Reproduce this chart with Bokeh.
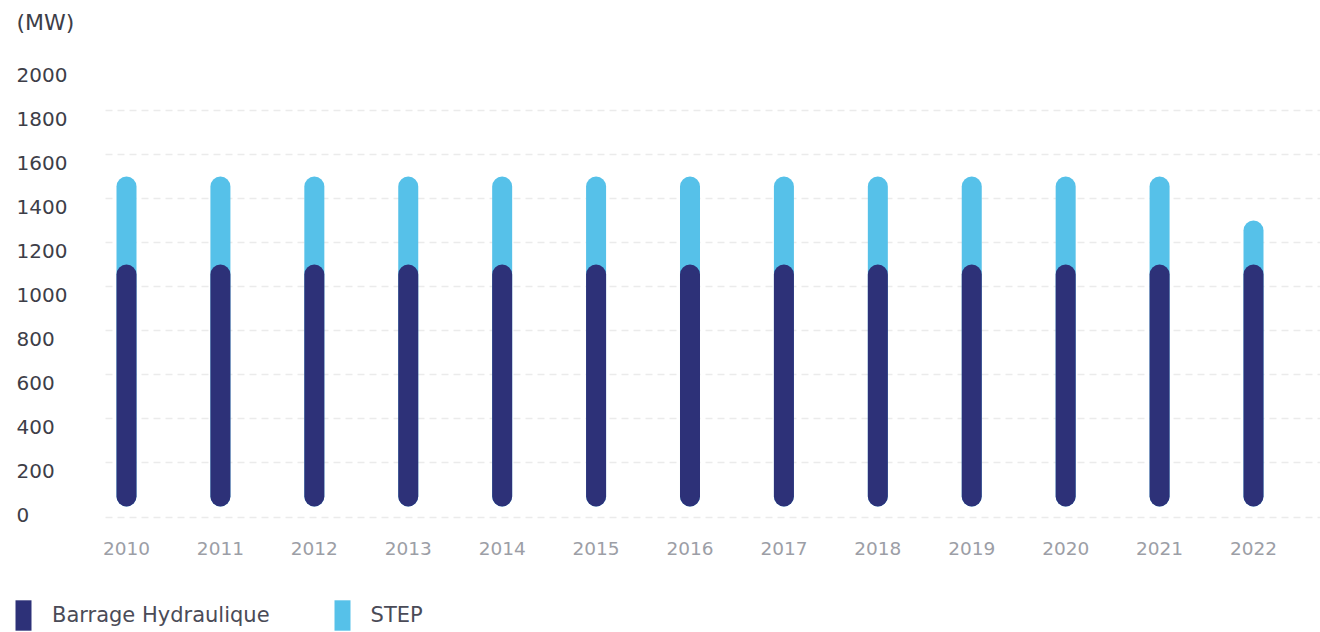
from bokeh.plotting import figure
from bokeh.models import (Range1d, FixedTicker, ColumnDataSource, LabelSet, Label,
                          Legend, LegendItem, BoxAnnotation)
from bokeh.core.properties import value
from bokeh.embed import file_html
from bokeh.resources import INLINE

# ---- data ----
years = ["2010", "2011", "2012", "2013", "2014", "2015", "2016",
         "2017", "2018", "2019", "2020", "2021", "2022"]
barrage = [1100, 1100, 1100, 1100, 1100, 1100, 1100,
           1100, 1100, 1100, 1100, 1100, 1100]
step = [400, 400, 400, 400, 400, 400, 400,
        400, 400, 400, 400, 400, 200]
y_ticks = [0, 200, 400, 600, 800, 1000, 1200, 1400, 1600, 1800, 2000]
y_tick_labels = [str(v) for v in y_ticks]
unit_label = "(MW)"
series_names = ["Barrage Hydraulique", "STEP"]

FONT = "DejaVu Sans"
DARK = "#2d3178"
LIGHT = "#56c1e9"

xs = list(range(len(years)))
totals = [b + s for b, s in zip(barrage, step)]

# plot frame covers the whole canvas; ranges set so 0 MW sits on the baseline
y0, y1 = -572.7, 2300
x0, x1 = -1.3416, 12.7134
p = figure(width=1320, height=632,
           x_range=Range1d(x0, x1), y_range=Range1d(y0, y1),
           x_axis_location=None, y_axis_location=None,
           output_backend="svg", toolbar_location=None, min_border=0)
p.outline_line_color = None
p.background_fill_color = "white"
p.extra_y_ranges = {"lbl": Range1d(y0 + 40, y1 + 40)}

p.xgrid.visible = False
p.ygrid.ticker = FixedTicker(ticks=[-50] + y_ticks[1:-1])
p.ygrid.grid_line_color = "#ebebeb"
p.ygrid.grid_line_dash = "7 5"
p.ygrid.grid_line_width = 1.3
grid_left = -0.2236
if "cross_bounds" in p.ygrid[0].properties():
    p.ygrid.cross_bounds = (grid_left, x1)
else:
    p.add_layout(BoxAnnotation(right=grid_left, fill_color="white", fill_alpha=1,
                               line_color=None, level="underlay"))

src = ColumnDataSource(dict(x=xs, barrage=barrage, total=totals, year=years))
r_step = p.vbar(x="x", bottom=0, top="total", width=0.213, source=src,
                fill_color=LIGHT, line_color=None, border_radius=10)
r_bar = p.vbar(x="x", bottom=0, top="barrage", width=0.213, source=src,
               fill_color=DARK, line_color=None, border_radius=10)

# x tick labels
p.add_layout(LabelSet(x="x", y=-191, text="year", source=src,
                      text_align="center", text_baseline="middle",
                      text_font=value(FONT), text_font_size="18.5px",
                      text_color="#9c9ea6"))

# y tick labels (left aligned, as in the original)
lbl_src = ColumnDataSource(dict(y=y_ticks, text=y_tick_labels))
p.add_layout(LabelSet(x=16, x_units="screen", y="y", y_range_name="lbl",
                      text="text", source=lbl_src, text_align="left",
                      text_baseline="middle", text_font=value(FONT),
                      text_font_size="20px", text_color="#3d3e48"))
p.add_layout(Label(x=16, x_units="screen", y=2200, text=unit_label,
                   text_align="left", text_baseline="middle", text_font=FONT,
                   text_font_size="22px", text_color="#3d3e48"))

legend = Legend(items=[LegendItem(label=series_names[0], renderers=[r_bar]),
                       LegendItem(label=series_names[1], renderers=[r_step])],
                location=(13, -2), orientation="horizontal",
                glyph_width=20, glyph_height=38, label_standoff=19, spacing=62,
                padding=0, margin=0, border_line_color=None,
                background_fill_alpha=0, label_text_font=FONT,
                label_text_font_size="21px", label_text_color="#4a4b57",
                label_height=38)
p.add_layout(legend, "center")

open("out.html", "w").write(file_html(p, INLINE))
